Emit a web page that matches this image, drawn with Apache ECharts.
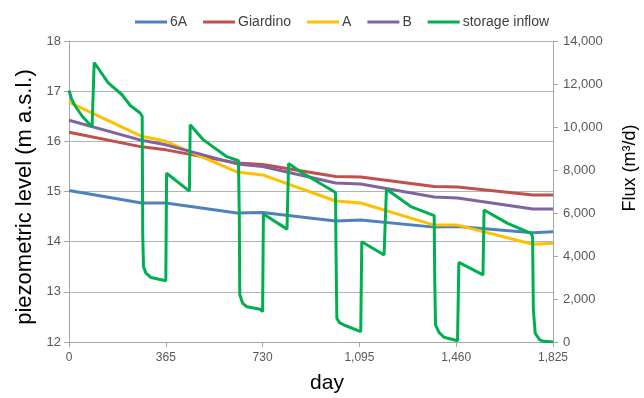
<!DOCTYPE html>
<html><head><meta charset="utf-8">
<script src="https://cdn.jsdelivr.net/npm/echarts@6/dist/echarts.min.js"></script>
<style>html,body{margin:0;padding:0;background:#fff}#c{width:644px;height:398px}</style>
</head><body><div id="c"></div>
<script>
// piezometric levels (m a.s.l.)
const pDays      = [0, 274, 365, 633, 730, 1005, 1100, 1377, 1465, 1749, 1825];
const s6A        = [15.02, 14.77, 14.77, 14.57, 14.58, 14.41, 14.43, 14.29, 14.30, 14.18, 14.20];
const sGiardino  = [16.18, 15.89, 15.83, 15.57, 15.54, 15.30, 15.29, 15.10, 15.09, 14.93, 14.93];
const sA         = [16.78, 16.10, 16.00, 15.39, 15.33, 14.81, 14.77, 14.33, 14.33, 13.95, 13.97];
const sB         = [16.42, 16.02, 15.93, 15.55, 15.50, 15.17, 15.15, 14.89, 14.87, 14.65, 14.65];
// storage inflow (m3/d)
const fDays = [0,10,22,50,87,89,95,148,200,231,268,276,278,281,290,309,365,368,454,457,507,595,639,642,644,655,671,721,730,733,822,828,873,1005,1007,1010,1020,1037,1100,1104,1188,1197,1289,1377,1379,1382,1395,1414,1465,1470,1561,1565,1654,1742,1748,1751,1758,1775,1790,1825];
const fVals = [11700,11300,11000,10500,10000,10000,13000,12050,11500,11000,10650,10500,5000,3500,3200,3000,2850,7850,7020,10100,9400,8620,8430,6000,2200,1800,1640,1520,1410,5950,5250,8300,7920,6950,4000,1100,900,790,480,4660,4050,7100,6300,5880,3000,800,450,220,60,3700,3120,6140,5520,5050,4900,1500,400,100,30,0];
const xTicks = [0, 365, 730, 1095, 1460, 1825];

const pair = (d, v) => d.map((x, i) => [x, v[i]]);
const FONT = 'Liberation Sans';
const tickColor = '#595959';
const mk = (name, color, data, yIdx) => ({
  name, type: 'line', yAxisIndex: yIdx, data, symbol: 'none', smooth: false,
  lineStyle: { color, width: 3 }, itemStyle: { color }
});
const chart = echarts.init(document.getElementById('c'));
chart.setOption({
  animation: false,
  textStyle: { fontFamily: FONT },
  legend: {
    top: 10, left: 130, icon: 'rect', itemWidth: 32, itemHeight: 3, itemGap: 16,
    textStyle: { fontSize: 14, color: '#404040', fontFamily: FONT, padding: [0, 0, 0, -2] },
    data: ['6A', 'Giardino', 'A', 'B', 'storage inflow']
  },
  grid: { left: 69, right: 91, top: 41, bottom: 56, containLabel: false },
  graphic: [
    { type: 'text', x: 25, y: 197, rotation: Math.PI / 2,
      style: { text: 'piezometric level (m a.s.l.)', font: '22px "Liberation Sans"', fill: '#000',
               textAlign: 'center', textVerticalAlign: 'middle' } },
    { type: 'text', x: 630, y: 168, rotation: Math.PI / 2,
      style: { text: 'Flux (m³/d)', font: '18px "Liberation Sans"', fill: '#000',
               textAlign: 'center', textVerticalAlign: 'middle' } },
    { type: 'text', x: 327, y: 383,
      style: { text: 'day', font: '21px "Liberation Sans"', fill: '#000',
               textAlign: 'center', textVerticalAlign: 'middle' } }
  ],
  xAxis: {
    type: 'value', min: 0, max: 1825, interval: 365,
    axisLine: { show: true, onZero: false, lineStyle: { color: '#a6a6a6' } },
    axisTick: { show: true, length: 5, lineStyle: { color: '#a6a6a6' } },
    axisLabel: { fontSize: 12, color: tickColor, margin: 10,
      formatter: v => v.toLocaleString('en-US') },
    splitLine: { show: false }
  },
  yAxis: [{
    type: 'value', min: 12, max: 18, interval: 1,
    axisLine: { show: true, lineStyle: { color: '#a6a6a6' } },
    axisTick: { show: true, length: 5, lineStyle: { color: '#a6a6a6' } },
    axisLabel: { fontSize: 13, color: tickColor, margin: 8 },
    splitLine: { show: true, lineStyle: { color: '#b3b3b3', width: 1 } }
  }, {
    type: 'value', min: 0, max: 14000, interval: 2000, position: 'right',
    axisLine: { show: true, lineStyle: { color: '#a6a6a6' } },
    axisTick: { show: true, length: 5, lineStyle: { color: '#a6a6a6' } },
    axisLabel: { fontSize: 13, color: tickColor, margin: 10,
      formatter: v => v.toLocaleString('en-US') },
    splitLine: { show: false }
  }],
  series: [
    mk('6A', '#4f81bd', pair(pDays, s6A), 0),
    mk('Giardino', '#c0504d', pair(pDays, sGiardino), 0),
    mk('A', '#ffc000', pair(pDays, sA), 0),
    mk('B', '#8064a2', pair(pDays, sB), 0),
    mk('storage inflow', '#00b050', pair(fDays, fVals), 1)
  ]
});
</script></body></html>
